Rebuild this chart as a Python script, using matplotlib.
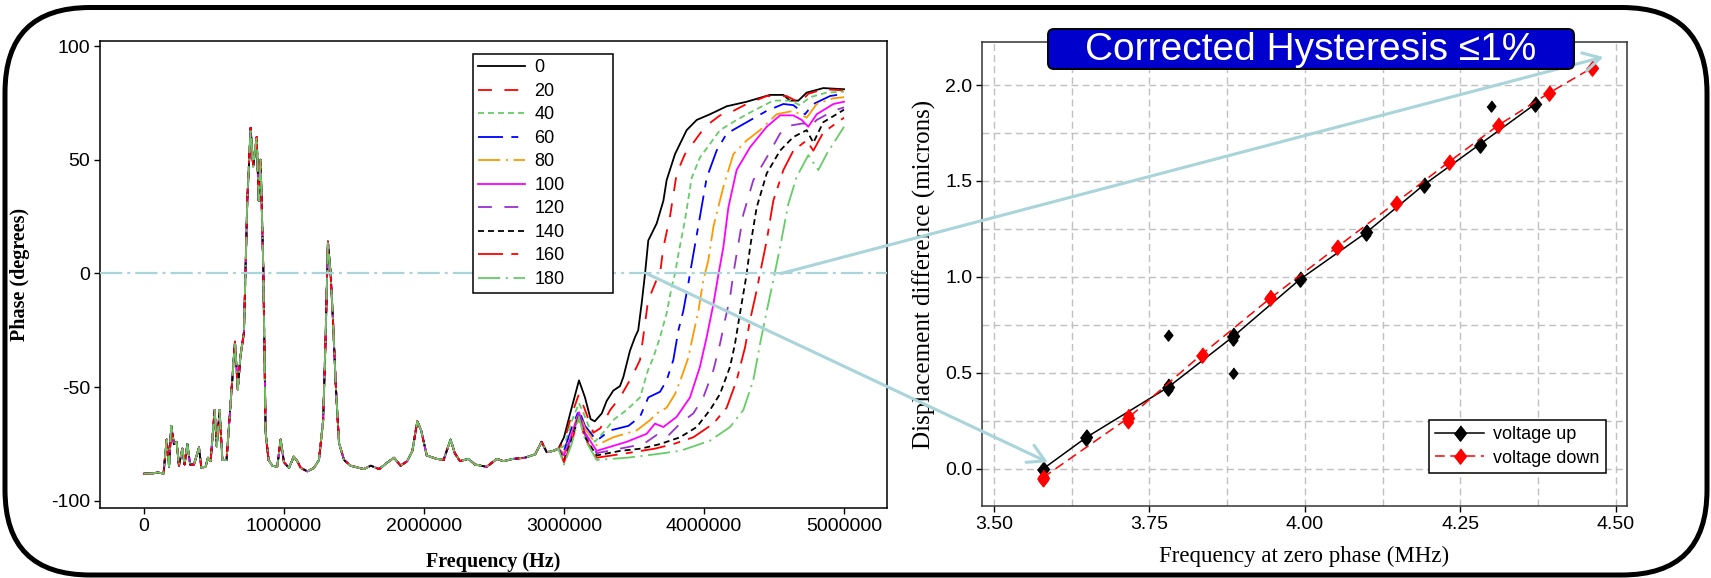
import numpy as np
import matplotlib
matplotlib.use('Agg')
import matplotlib.pyplot as plt
from matplotlib import font_manager
from matplotlib.patches import FancyBboxPatch, ConnectionPatch
from matplotlib.ticker import FixedLocator, FuncFormatter, MultipleLocator

plt.rcParams.update({
    'lines.scale_dashes': False,
    'font.family': ['DejaVu Sans'],
    'axes.linewidth': 1.1,
})


def pick(names):
    for n in names:
        try:
            font_manager.findfont(n, fallback_to_default=False)
            return n
        except ValueError:
            pass
    return 'DejaVu Sans'


NARROW = pick(['Liberation Sans Narrow', 'Liberation Sans'])
SANS = pick(['Liberation Sans', 'DejaVu Sans'])
SERIF = pick(['Liberation Serif', 'DejaVu Serif'])

# ---------------- left panel data (frequency in MHz, phase in degrees) ----------------
labels = ['0', '20', '40', '60', '80', '100', '120', '140', '160', '180']

# shared low-frequency part (all curves nearly coincide here)
base_f = [0.0, 0.05, 0.10, 0.14, 0.162, 0.179, 0.195, 0.214, 0.233, 0.25, 0.274, 0.29,
          0.31, 0.33, 0.357, 0.393, 0.41, 0.44, 0.457, 0.476, 0.505, 0.52, 0.54, 0.56,
          0.59, 0.62, 0.65, 0.67, 0.69, 0.714, 0.738, 0.762, 0.78, 0.805, 0.82, 0.833,
          0.852, 0.869, 0.89, 0.917, 0.952, 0.976, 1.0, 1.036, 1.07, 1.095, 1.12, 1.167,
          1.214, 1.25, 1.28, 1.298, 1.314, 1.333, 1.35, 1.369, 1.393, 1.429, 1.476, 1.571,
          1.62, 1.68, 1.74, 1.786, 1.833, 1.88, 1.917, 1.952, 1.98, 2.02, 2.09, 2.14,
          2.19, 2.22, 2.257, 2.317, 2.364, 2.448, 2.52, 2.567, 2.638, 2.72, 2.794, 2.84,
          2.876, 2.924, 2.96]
base_p = [-88, -88, -87.5, -88, -73, -85, -67, -75, -74, -84.5, -77, -84,
          -75, -84, -84, -76.5, -85.5, -85, -81, -82.5, -60, -76, -60, -82,
          -82, -56, -30, -51, -36, -26, 32, 64, 47, 60, 32, 50,
          3, -70, -82, -84.5, -85, -73, -83, -85.5, -80.5, -82.5, -85.5, -87,
          -85.5, -82, -64.5, -26.5, 14, 0, -20.5, -48, -74.5, -82, -84.5, -86,
          -84.5, -86, -83, -81, -84.5, -82.5, -78, -65, -69, -80, -81.5, -82,
          -73, -79, -82.5, -81.5, -84, -85, -81.5, -82.5, -81.5, -81, -79.5, -74,
          -78.5, -78, -77]

# per-curve high-frequency part
tail_f_0 = [3.0, 3.055, 3.107, 3.15, 3.19, 3.22, 3.27, 3.305, 3.352, 3.4, 3.424, 3.471, 3.507,
            3.53, 3.555, 3.579, 3.602, 3.662, 3.71, 3.733, 3.793, 3.876, 3.948, 4.043, 4.162,
            4.305, 4.471, 4.567, 4.614, 4.674, 4.733, 4.852, 5.0]
tail_p_0 = [-72, -59, -47, -54.5, -64, -65, -61.5, -56, -51.5, -49.5, -45.5, -34, -28,
            -25, -13, 0, 14.5, 22, 32, 41, 52.5, 63, 67.5, 70, 73.5,
            75.5, 78.5, 78.5, 76, 76, 79.5, 81.5, 81]
tail_f_20 = [3.0, 3.055, 3.107, 3.15, 3.21, 3.26, 3.33, 3.4, 3.484, 3.543, 3.579, 3.6, 3.66,
             3.686, 3.71, 3.757, 3.805, 3.864, 3.936, 4.007, 4.114, 4.21, 4.305, 4.448, 4.59,
             4.686, 4.745, 4.852, 5.0]
tail_p_20 = [-74, -62, -53, -60, -70, -68, -60, -54.5, -45.5, -38, -22, -12, -3,
             0, 11.5, 25, 44, 52.5, 58.5, 64.5, 69.5, 71.5, 74.5, 78, 78,
             75, 79, 81, 80.5]
tail_f_40 = [3.0, 3.055, 3.107, 3.15, 3.22, 3.28, 3.36, 3.448, 3.543, 3.6, 3.638, 3.686, 3.733,
             3.769, 3.793, 3.817, 3.864, 3.912, 3.971, 4.043, 4.114, 4.233, 4.352, 4.495, 4.614,
             4.686, 4.757, 4.876, 5.0]
tail_p_40 = [-76, -65, -57, -63, -74, -70, -64, -60, -54.5, -42.5, -37, -28, -17.5,
             -6, 0, 8.5, 23.5, 42, 51, 57, 63, 67.5, 71.5, 76, 76,
             74, 77.5, 79.5, 80]
tail_f_60 = [3.0, 3.055, 3.107, 3.15, 3.233, 3.329, 3.46, 3.543, 3.602, 3.686, 3.733, 3.781,
             3.817, 3.852, 3.888, 3.9, 3.924, 3.971, 4.019, 4.09, 4.162, 4.305, 4.448, 4.567,
             4.638, 4.721, 4.781, 4.9, 5.0]
tail_p_60 = [-78, -68, -60, -67, -73.5, -69, -67, -63, -54.5, -52, -47, -38,
             -25, -16.5, -4.5, 0, 8.5, 25, 42, 54, 61.5, 66.5, 71.5, 74.5,
             74, 70, 74.5, 78, 79]
tail_f_80 = [3.0, 3.055, 3.107, 3.15, 3.233, 3.352, 3.519, 3.614, 3.662, 3.733, 3.793, 3.84,
             3.888, 3.924, 3.96, 3.995, 4.03, 4.067, 4.138, 4.21, 4.305, 4.4, 4.519, 4.638,
             4.733, 4.805, 4.924, 5.0]
tail_p_80 = [-79, -70, -61, -68, -75.5, -72, -69, -64.5, -61.5, -59, -53, -45.5,
             -37, -26.5, -16.5, -3, 5.5, 20.5, 38, 52.5, 58.5, 63, 70, 71.5,
             68.5, 74.5, 77, 77.5]
tail_f_100 = [3.0, 3.055, 3.107, 3.15, 3.233, 3.448, 3.59, 3.65, 3.71, 3.805, 3.9, 3.971,
              4.019, 4.067, 4.1, 4.138, 4.174, 4.233, 4.329, 4.448, 4.543, 4.638, 4.698,
              4.745, 4.805, 4.924, 5.0]
tail_p_100 = [-80, -71, -61, -70, -78, -74, -70.5, -66, -67.5, -63, -54.5, -41,
              -28, -13.5, -1.5, 11.5, 29, 45.5, 55.5, 64.5, 69.5, 69.5, 67.5,
              64.5, 70, 74.5, 75.5]
tail_f_120 = [3.0, 3.055, 3.107, 3.15, 3.233, 3.4, 3.567, 3.662, 3.733, 3.829, 3.924, 3.995,
              4.067, 4.114, 4.15, 4.186, 4.21, 4.233, 4.281, 4.352, 4.448, 4.543, 4.614,
              4.71, 4.757, 4.805, 4.924, 5.0]
tail_p_120 = [-81, -72, -62, -71, -79, -77, -75, -71, -72, -66, -61.5, -54.5,
              -42.5, -31, -20.5, -10.5, 0, 8.5, 26, 41, 51, 61.5, 65,
              66, 64.5, 67.5, 71.5, 73]
tail_f_140 = [3.0, 3.055, 3.107, 3.15, 3.233, 3.4, 3.55, 3.686, 3.829, 3.948, 4.043, 4.114,
              4.186, 4.221, 4.257, 4.293, 4.305, 4.329, 4.376, 4.448, 4.543, 4.638, 4.733,
              4.781, 4.852, 5.0]
tail_p_140 = [-82, -73, -62.5, -72, -80, -78, -77, -75, -72, -67.5, -60, -53,
              -41, -31, -17.5, -4.5, 0, 11.5, 29, 44, 54, 60, 63,
              57.5, 66.5, 72]
tail_f_160 = [3.0, 3.055, 3.107, 3.15, 3.233, 3.45, 3.65, 3.781, 3.924, 4.067, 4.162, 4.233,
              4.293, 4.329, 4.376, 4.4, 4.448, 4.495, 4.567, 4.638, 4.733, 4.781, 4.852, 5.0]
tail_p_160 = [-83, -74, -63, -72.5, -81, -79, -77, -75, -72, -66, -59, -47,
              -32.5, -20.5, -7.5, 0, 14.5, 32, 45.5, 54, 58.5, 54, 62, 68.5]
tail_f_180 = [3.0, 3.055, 3.107, 3.15, 3.233, 3.45, 3.65, 3.829, 4.043, 4.186, 4.281, 4.352,
              4.4, 4.448, 4.495, 4.543, 4.602, 4.662, 4.745, 4.817, 4.876, 5.0]
tail_p_180 = [-84, -75, -63, -73, -82, -81, -79.5, -78, -73.5, -67.5, -60, -47,
              -31, -16.5, -3, 11.5, 30.5, 42.5, 52, 45.5, 52.5, 64.5]

# zero-phase crossings that the arrows start from (MHz)
cross_low = 3.59
cross_high = 4.55

# ---------------- right panel data ----------------
up_x = [3.579, 3.649, 3.78, 3.885, 3.992, 4.099, 4.191, 4.281, 4.37]
up_y = [0.0, 0.165, 0.425, 0.69, 0.987, 1.232, 1.479, 1.69, 1.90]
up_rep_x = [3.649, 3.649, 3.78, 3.78, 3.78, 3.885, 3.885, 3.885, 4.099, 4.099, 4.281, 4.299]
up_rep_y = [0.179, 0.153, 0.44, 0.41, 0.70, 0.71, 0.67, 0.50, 1.244, 1.22, 1.70, 1.89]
down_x = [3.579, 3.715, 3.834, 3.944, 4.052, 4.146, 4.232, 4.311, 4.392, 4.462]
down_y = [-0.045, 0.263, 0.596, 0.888, 1.156, 1.387, 1.60, 1.79, 1.957, 2.09]
down_rep_x = [3.579, 3.579, 3.715, 3.715, 3.944]
down_rep_y = [-0.035, -0.058, 0.28, 0.245, 0.90]
arrow_low = (3.587, 0.035)
arrow_high = (4.48, 2.146)

# ---------------- styles ----------------
GREEN = '#66CC66'
styles = {
    '0': ('black', '-'),
    '20': ('#FF0000', (0, (10, 9))),
    '40': (GREEN, (0, (4.3, 2.9))),
    '60': ('#0000FF', (0, (18, 6, 5, 6))),
    '80': ('#FF9900', (0, (16, 4, 1.5, 4))),
    '100': ('#FF00FF', '-'),
    '120': ('#9933CC', (0, (10, 9))),
    '140': ('black', (0, (4.3, 2.9))),
    '160': ('#FF0000', (0, (18, 6, 5, 6))),
    '180': (GREEN, (0, (16, 4, 1.5, 4))),
}
tails = {
    '0': (tail_f_0, tail_p_0), '20': (tail_f_20, tail_p_20), '40': (tail_f_40, tail_p_40),
    '60': (tail_f_60, tail_p_60), '80': (tail_f_80, tail_p_80), '100': (tail_f_100, tail_p_100),
    '120': (tail_f_120, tail_p_120), '140': (tail_f_140, tail_p_140),
    '160': (tail_f_160, tail_p_160), '180': (tail_f_180, tail_p_180),
}
LB = '#A9D4D9'

W, H = 1711, 578
fig = plt.figure(figsize=(W / 100, H / 100), dpi=100)


def fx(px):
    return px / W


def fy(py):
    return 1 - py / H


ax1 = fig.add_axes([fx(100), fy(508), fx(887) - fx(100), fy(41) - fy(508)])
ax2 = fig.add_axes([fx(982), fy(506), fx(1627) - fx(982), fy(42) - fy(506)])

# ---- left panel ----
for lab in labels:
    col, ls = styles[lab]
    tf, tp = tails[lab]
    f = np.array(base_f + tf) * 1e6
    p = np.array(base_p + tp)
    ax1.plot(f, p, color=col, linestyle=ls, lw=1.3, label=lab)

ax1.axhline(0, color=LB, lw=1.6, linestyle=(0, (16, 3.6, 2.2, 3.6)), zorder=3)
ax1.set_xlim(-314000, 5307000)
ax1.set_ylim(-103.1, 102.2)
ax1.xaxis.set_major_locator(FixedLocator([0, 1e6, 2e6, 3e6, 4e6, 5e6]))
ax1.xaxis.set_major_formatter(FuncFormatter(lambda v, p: '%d' % v))
ax1.yaxis.set_major_locator(FixedLocator([-100, -50, 0, 50, 100]))
ax1.yaxis.set_major_formatter(FuncFormatter(lambda v, p: '%d' % v))
ax1.tick_params(direction='out', length=4, width=1.0, labelsize=14, pad=3)
for t in ax1.get_xticklabels() + ax1.get_yticklabels():
    t.set_fontfamily(SANS)
ax1.set_xlabel('Frequency (Hz)', fontsize=14.5, fontweight='bold', family=SERIF)
ax1.set_ylabel('Phase (degrees)', fontsize=14.5, fontweight='bold', family=SERIF)
ax1.xaxis.set_label_coords(0.5, -0.094)
ax1.yaxis.set_label_coords(-0.089, 0.5)
leg1 = ax1.legend(loc='upper left', bbox_to_anchor=(0.474, 0.454, 0.178, 0.518),
                  mode='expand', borderaxespad=0, fancybox=False, framealpha=1,
                  edgecolor='black', prop={'family': NARROW, 'size': 13},
                  handlelength=2.6, handletextpad=0.5, labelspacing=0.36, borderpad=0.3)
leg1.get_frame().set_linewidth(1.1)

# ---- right panel ----
dmd = [(0, 1), (0.78, 0), (0, -1), (-0.78, 0)]
ax2.plot(up_x, up_y, color='black', lw=1.1, marker=dmd, ms=11, label='voltage up', zorder=4)
ax2.plot(up_rep_x, up_rep_y, linestyle='none', color='black', marker=dmd, ms=8, zorder=4)
ax2.plot(down_x, down_y, color='#FF0000', lw=1.1, linestyle=(0, (7, 4)), marker=dmd, ms=11,
         label='voltage down', zorder=5)
ax2.plot(down_rep_x, down_rep_y, linestyle='none', color='#FF0000', marker=dmd, ms=9, zorder=5)

ax2.set_xlim(3.481, 4.518)
ax2.set_ylim(-0.193, 2.224)
ax2.xaxis.set_major_locator(MultipleLocator(0.25))
ax2.xaxis.set_minor_locator(MultipleLocator(0.125))
ax2.yaxis.set_major_locator(MultipleLocator(0.5))
ax2.yaxis.set_minor_locator(MultipleLocator(0.25))
ax2.xaxis.set_major_formatter(FuncFormatter(lambda v, p: '%.2f' % v))
ax2.yaxis.set_major_formatter(FuncFormatter(lambda v, p: '%.1f' % v))
ax2.grid(True, which='both', color='#C0C0C0', lw=1.0, linestyle=(0, (5, 3)))
ax2.set_axisbelow(True)
ax2.tick_params(which='major', direction='out', length=4, width=1.0, labelsize=14, pad=3)
ax2.tick_params(which='minor', length=0)
for t in ax2.get_xticklabels() + ax2.get_yticklabels():
    t.set_fontfamily(NARROW)
for s in ax2.spines.values():
    s.set_color('#333333')
ax2.set_xlabel('Frequency at zero phase (MHz)', fontsize=16.5, family=SERIF)
ax2.set_ylabel('Displacement difference (microns)', fontsize=18, family=SERIF)
ax2.xaxis.set_label_coords(0.5, -0.086)
ax2.yaxis.set_label_coords(-0.072, 0.5)
leg2 = ax2.legend(loc='lower right', bbox_to_anchor=(0.967, 0.071), borderaxespad=0,
                  fancybox=False, framealpha=1, edgecolor='black',
                  prop={'family': NARROW, 'size': 13}, handlelength=2.7,
                  handletextpad=0.5, labelspacing=0.35, borderpad=0.35)
leg2.get_frame().set_linewidth(1.1)

# ---- rounded outer frame ----
frame = FancyBboxPatch((0.05, 0.03), 17.02, 5.675, boxstyle='round,pad=0,rounding_size=0.85',
                       transform=fig.dpi_scale_trans, facecolor='none', edgecolor='black',
                       lw=3.6, zorder=0)
fig.add_artist(frame)

# ---- connecting arrows ----
for a_pt, b_pt in [((cross_low * 1e6, 0), arrow_low), ((cross_high * 1e6, 0), arrow_high)]:
    con = ConnectionPatch(xyA=a_pt, coordsA=ax1.transData, xyB=b_pt, coordsB=ax2.transData,
                          arrowstyle='->,head_length=0.8,head_width=0.45', mutation_scale=15,
                          color=LB, lw=2.2, shrinkA=0, shrinkB=0, zorder=10)
    fig.add_artist(con)

# ---- title box ----
box = FancyBboxPatch((10.48, 5.09), 5.26, 0.40, boxstyle='round,pad=0,rounding_size=0.06',
                     transform=fig.dpi_scale_trans, facecolor='#0000CD', edgecolor='black',
                     lw=1.4, zorder=11)
fig.add_artist(box)
fig.text(fx(1311), fy(50), 'Corrected Hysteresis \u22641%', color='white', fontsize=28,
         family=[NARROW, 'DejaVu Sans'], ha='center', va='center', zorder=12)

fig.savefig('out.png', dpi=100)
